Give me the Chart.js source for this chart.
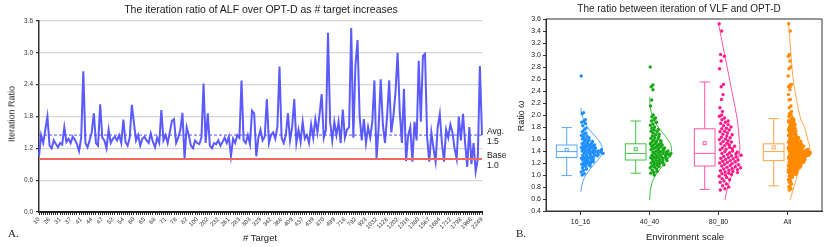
<!DOCTYPE html>
<html><head><meta charset="utf-8">
<script src="https://cdn.jsdelivr.net/npm/chart.js@4.4.1/dist/chart.umd.min.js"></script>
<style>
body{margin:0;width:830px;height:247px;position:relative;background:#fff;font-family:"Liberation Sans",Arial,sans-serif;overflow:hidden}
canvas{position:absolute;top:0}
#c1{left:0}
#c2{left:500px}
.t{position:absolute;white-space:nowrap;color:#1a1a1a;line-height:1}
.c{transform:translate(-50%,-50%)}
.r{transform:translate(-50%,-50%) rotate(-90deg)}
.serif{font-family:"Liberation Serif","DejaVu Serif",serif}
</style></head><body>
<canvas id="c1" width="520" height="247"></canvas>
<canvas id="c2" width="330" height="247"></canvas>

<div class="t c" style="left:261px;top:9px;font-size:10.5px">The iteration ratio of ALF over OPT-D as # target increases</div>
<div class="t r" style="left:12px;top:114px;font-size:9px">Iteration Ratio</div>
<div class="t c" style="left:260px;top:238px;font-size:9.5px"># Target</div>
<div class="t serif" style="left:8px;top:228px;font-size:11px">A.</div>
<div class="t" style="left:487px;top:126px;font-size:8.5px;line-height:10px">Avg.<br>1.5</div>
<div class="t" style="left:487px;top:150px;font-size:8.5px;line-height:10px">Base<br>1.0</div>

<div class="t c" style="left:679px;top:9px;font-size:10px">The ratio between iteration of VLF and OPT-D</div>
<div class="t r" style="left:521px;top:116px;font-size:9px">Ratio <i>ω</i></div>
<div class="t c" style="left:685px;top:237px;font-size:9.5px">Environment scale</div>
<div class="t serif" style="left:516px;top:228px;font-size:11px">B.</div>

<script>
// ---------------- Panel A data ----------------
const xTickLabels = ['10','26','31','37','41','44','47','52','54','60','65','68','71','78','82','100','202','232','261','283','303','329','342','366','409','437','439','470','499','716','792','923','1032','1128','1202','1316','1380','1567','1684','1712','1798','1966','2249'];
const iterationRatio = [
1.05,1.45,1.3,1.55,1.8,1.25,1.2,1.35,1.28,1.22,
1.3,1.27,1.6,1.32,1.38,1.3,1.42,1.36,1.28,1.15,
1.4,2.65,1.3,1.22,1.35,1.5,1.86,1.3,1.25,2.03,
1.4,1.35,1.2,1.55,1.3,1.38,1.42,1.35,1.45,1.3,
1.74,1.32,1.25,1.4,2.02,1.68,1.35,1.45,1.25,
1.38,1.42,1.35,1.3,1.48,1.32,1.22,1.4,1.3,1.92,
1.35,1.45,1.3,1.5,1.72,1.75,1.3,1.4,1.55,1.87,
1.0,1.6,1.45,1.25,1.2,1.35,1.3,1.28,1.4,2.42,
1.3,1.86,1.25,1.2,1.3,1.28,1.35,1.25,1.32,1.4,
1.3,1.42,1.05,1.38,1.3,1.45,1.4,2.48,1.35,
1.3,1.45,1.28,1.91,1.86,1.05,1.4,1.55,1.35,1.42,
2.13,1.3,1.45,1.5,1.38,1.6,2.74,1.4,1.3,1.45,
1.86,1.35,1.6,2.13,1.3,1.55,1.32,1.7,1.38,1.45,
1.3,1.65,1.4,1.75,1.5,1.85,2.22,1.4,1.55,
3.38,1.7,1.35,1.7,1.45,1.7,1.3,1.93,1.4,1.55,
1.6,3.47,1.4,2.76,3.24,1.8,1.35,1.75,1.3,1.6,
1.4,1.7,2.48,1.0,1.6,2.5,1.65,1.3,1.8,2.48,
1.5,1.8,2.26,3.0,1.9,1.3,2.32,0.96,1.45,
1.6,0.95,1.7,1.35,2.85,1.7,2.94,2.98,1.4,0.95,
1.5,1.2,0.95,1.6,1.85,1.3,0.95,1.55,1.4,1.65,
1.5,1.2,1.0,1.8,1.35,1.85,1.3,0.85,1.6,0.9,
1.3,0.76,1.0,2.75,1.45];
const avgRatio = 1.45;
const baseRatio = 1.0;

// ---------------- Panel B data ----------------
const categories = ['16_16','40_40','80_80','All'];
const s16 = [2.65,2.04,2.02,1.92,1.9,1.88,1.86,1.82,1.78,1.75,1.72,1.7,1.68,1.66,1.65,1.63,1.62,1.6,1.6,1.58,1.57,1.56,1.55,1.54,1.53,1.52,1.52,1.51,1.5,1.5,1.49,1.48,1.48,1.47,1.46,1.46,1.45,1.45,1.44,1.43,1.43,1.42,1.42,1.41,1.41,1.4,1.4,1.4,1.39,1.39,1.38,1.38,1.37,1.37,1.36,1.36,1.35,1.35,1.34,1.34,1.33,1.33,1.32,1.32,1.31,1.3,1.3,1.29,1.28,1.28,1.27,1.26,1.25,1.25,1.24,1.23,1.22,1.21,1.2,1.2,1.19,1.18,1.17,1.16,1.15,1.14,1.12,1.1,1.08,1.05,1.02,1.0];
const s40 = [2.8,2.5,2.47,2.42,2.25,2.15,2.0,1.97,1.95,1.92,1.9,1.88,1.85,1.83,1.8,1.78,1.76,1.75,1.73,1.72,1.7,1.68,1.67,1.65,1.64,1.62,1.61,1.6,1.58,1.57,1.56,1.55,1.54,1.53,1.52,1.51,1.5,1.5,1.49,1.48,1.47,1.46,1.45,1.45,1.44,1.43,1.42,1.42,1.41,1.4,1.4,1.39,1.38,1.38,1.37,1.36,1.36,1.35,1.35,1.34,1.33,1.33,1.32,1.32,1.31,1.3,1.3,1.29,1.29,1.28,1.28,1.27,1.26,1.26,1.25,1.24,1.24,1.23,1.22,1.21,1.2,1.2,1.19,1.18,1.17,1.16,1.15,1.14,1.13,1.12,1.1,1.08,1.06,1.04,1.03,1.0];
const s80 = [3.52,3.4,3.01,2.98,2.9,2.77,2.51,2.47,2.34,2.26,2.12,2.06,2.0,1.98,1.95,1.92,1.9,1.88,1.86,1.84,1.82,1.8,1.78,1.77,1.75,1.73,1.72,1.7,1.68,1.67,1.65,1.63,1.62,1.6,1.59,1.57,1.56,1.55,1.53,1.52,1.5,1.49,1.48,1.46,1.45,1.44,1.43,1.42,1.4,1.39,1.38,1.37,1.36,1.35,1.34,1.33,1.32,1.31,1.3,1.29,1.28,1.27,1.26,1.25,1.24,1.23,1.22,1.21,1.2,1.19,1.18,1.17,1.16,1.15,1.14,1.13,1.12,1.11,1.1,1.09,1.08,1.07,1.06,1.05,1.04,1.03,1.02,1.01,1.0,0.98,0.96,0.94,0.92,0.9,0.88,0.85,0.82,0.8,0.77,0.75];
const sAll = s16.concat(s40, s80);
const boxQ1     = [1.29, 1.25, 1.15, 1.24];
const boxMedian = [1.39, 1.36, 1.36, 1.39];
const boxQ3     = [1.50, 1.52, 1.77, 1.52];
const boxMean   = [1.42, 1.43, 1.53, 1.46];
const whiskLow  = [0.99, 1.03, 0.76, 0.82];
const whiskHigh = [1.79, 1.90, 2.55, 1.94];
// half-violin outlines: values and widths (in category units)
const curveVal16 = [0.72,0.8,0.9,1.0,1.1,1.2,1.3,1.42,1.55,1.65,1.75,1.85,1.95,2.05,2.12];
const curveW16   = [0.006,0.015,0.037,0.078,0.141,0.217,0.285,0.32,0.28,0.21,0.134,0.073,0.034,0.013,0.006];
const curveVal40 = [0.58,0.7,0.8,0.9,1.0,1.1,1.2,1.3,1.43,1.55,1.7,1.8,1.9,2.0,2.1,2.2,2.3];
const curveW40   = [0.002,0.008,0.021,0.046,0.09,0.152,0.223,0.285,0.32,0.29,0.194,0.125,0.07,0.035,0.015,0.006,0.002];
const curveVal80 = [0.585,0.81,1.09,1.37,1.65,1.92,2.3,2.68,3.1,3.52];
const curveW80   = [0.093,0.137,0.224,0.305,0.297,0.273,0.211,0.145,0.073,0.0];
const curveValAll = [0.585,0.81,1.09,1.3,1.45,1.6,1.81,1.92,2.3,2.68,3.1,3.52];
const curveWAll   = [0.035,0.097,0.17,0.262,0.32,0.291,0.243,0.195,0.124,0.073,0.044,0.015];

// ---------------- Panel A chart ----------------
const xLabels = iterationRatio.map((_, i) => (i % 5 === 0 && xTickLabels[i / 5] !== undefined) ? xTickLabels[i / 5] : '');
const refLines = {
  id: 'refLines',
  afterDatasetsDraw(chart) {
    const { ctx, chartArea: a, scales: { y } } = chart;
    ctx.save();
    let py = y.getPixelForValue(avgRatio);
    ctx.strokeStyle = '#4f4fff'; ctx.lineWidth = 1; ctx.setLineDash([3, 2]);
    ctx.beginPath(); ctx.moveTo(a.left, py); ctx.lineTo(a.right, py); ctx.stroke();
    py = y.getPixelForValue(baseRatio);
    ctx.setLineDash([]); ctx.strokeStyle = '#f0695c'; ctx.lineWidth = 2;
    ctx.beginPath(); ctx.moveTo(a.left, py); ctx.lineTo(a.right, py); ctx.stroke();
    ctx.restore();
  }
};
new Chart(document.getElementById('c1'), {
  type: 'line',
  data: { labels: xLabels, datasets: [{ data: iterationRatio, borderColor: '#5a5aff', borderWidth: 2, pointRadius: 0, tension: 0 }] },
  options: {
    responsive: false, animation: false,
    layout: { padding: { top: 21, right: 38, left: 0, bottom: 0 } },
    plugins: { legend: { display: false }, tooltip: { enabled: false } },
    scales: {
      x: {
        afterFit: s => { s.height = 35; },
        grid: { display: true, drawOnChartArea: false, drawTicks: true, tickLength: 3, color: '#222', lineWidth: 1 },
        border: { color: '#222', width: 2 },
        ticks: { autoSkip: false, minRotation: 45, maxRotation: 45, padding: 1, color: '#333', font: { size: 6, family: 'Liberation Sans' } }
      },
      y: {
        min: 0, max: 3.6,
        afterFit: s => { s.width = 39; },
        grid: { color: '#d6d6d6', lineWidth: 1.3, tickLength: 3, tickColor: '#333' },
        border: { color: '#333', width: 1.5 },
        ticks: { stepSize: 0.6, padding: 3, color: '#333', font: { size: 6.5, family: 'Liberation Sans' }, callback: v => Number(v).toFixed(1) }
      }
    }
  },
  plugins: [refLines]
});

// ---------------- Panel B chart ----------------
const groups = [s16, s40, s80, sAll];
const curves = [[curveVal16, curveW16], [curveVal40, curveW40], [curveVal80, curveW80], [curveValAll, curveWAll]];
const pointColors = ['#1e8fff', '#14a814', '#ff1a8c', '#ff8a00'];
const lineColors = ['#55a6ff', '#45c045', '#ff55a8', '#ffa64a'];

function jitter(arr, cat) {
  const counts = arr.map(v => arr.filter(w => Math.abs(w - v) <= 0.05).length);
  const maxN = Math.max(...counts);
  return arr.map((v, i) => ({ x: cat + 0.01 + ((i * 0.6180339) % 1) * (0.03 + 0.29 * counts[i] / maxN), y: v }));
}
const datasets = [];
groups.forEach((g, i) => {
  datasets.push({ data: jitter(g, i), backgroundColor: pointColors[i], borderWidth: 0, pointRadius: 1.7, showLine: false });
});
curves.forEach(([vals, ws], i) => {
  datasets.push({ data: vals.map((v, k) => ({ x: i + ws[k], y: v })), showLine: true, borderColor: lineColors[i], borderWidth: 1, pointRadius: 0, tension: 0.35, fill: false });
});

const boxPlugin = {
  id: 'boxes',
  afterDatasetsDraw(chart) {
    const { ctx, chartArea: a, scales: { x, y } } = chart;
    ctx.save();
    const unit = x.getPixelForValue(1) - x.getPixelForValue(0);
    categories.forEach((c, i) => {
      const cx = x.getPixelForValue(i - 0.2);
      const hw = 0.15 * unit, cw = 0.075 * unit;
      const q1 = y.getPixelForValue(boxQ1[i]), q3 = y.getPixelForValue(boxQ3[i]);
      const md = y.getPixelForValue(boxMedian[i]), mn = y.getPixelForValue(boxMean[i]);
      const lo = y.getPixelForValue(whiskLow[i]), hi = y.getPixelForValue(whiskHigh[i]);
      ctx.strokeStyle = lineColors[i]; ctx.lineWidth = 1;
      ctx.strokeRect(cx - hw, q3, 2 * hw, q1 - q3);
      ctx.beginPath();
      ctx.moveTo(cx - hw, md); ctx.lineTo(cx + hw, md);
      ctx.moveTo(cx, q3); ctx.lineTo(cx, hi);
      ctx.moveTo(cx, q1); ctx.lineTo(cx, lo);
      ctx.moveTo(cx - cw, hi); ctx.lineTo(cx + cw, hi);
      ctx.moveTo(cx - cw, lo); ctx.lineTo(cx + cw, lo);
      ctx.stroke();
      ctx.strokeRect(cx - 1.5, mn - 1.5, 3, 3);
    });
    ctx.strokeStyle = '#333'; ctx.lineWidth = 1;
    ctx.strokeRect(a.left, a.top, a.right - a.left, a.bottom - a.top);
    ctx.restore();
  }
};

new Chart(document.getElementById('c2'), {
  type: 'scatter',
  data: { datasets },
  options: {
    responsive: false, animation: false,
    layout: { padding: { top: 19, right: 8, left: 0, bottom: 0 } },
    plugins: { legend: { display: false }, tooltip: { enabled: false } },
    scales: {
      x: {
        type: 'linear', min: -0.5, max: 3.5,
        afterFit: s => { s.height = 36; },
        afterBuildTicks: s => { s.ticks = categories.map((c, i) => ({ value: i })); },
        grid: { drawOnChartArea: false, tickLength: 4, color: '#333' },
        border: { color: '#333', width: 1 },
        ticks: { padding: 3, color: '#222', font: { size: 7, family: 'Liberation Sans' }, callback: v => categories[v] }
      },
      y: {
        min: 0.4, max: 3.6,
        afterFit: s => { s.width = 46; },
        grid: { drawOnChartArea: false, tickLength: 3, color: '#333' },
        border: { color: '#333', width: 1 },
        ticks: { stepSize: 0.2, padding: 2, color: '#222', font: { size: 7, family: 'Liberation Sans' }, callback: v => Number(v).toFixed(1) }
      }
    }
  },
  plugins: [boxPlugin]
});
</script>
</body></html>
